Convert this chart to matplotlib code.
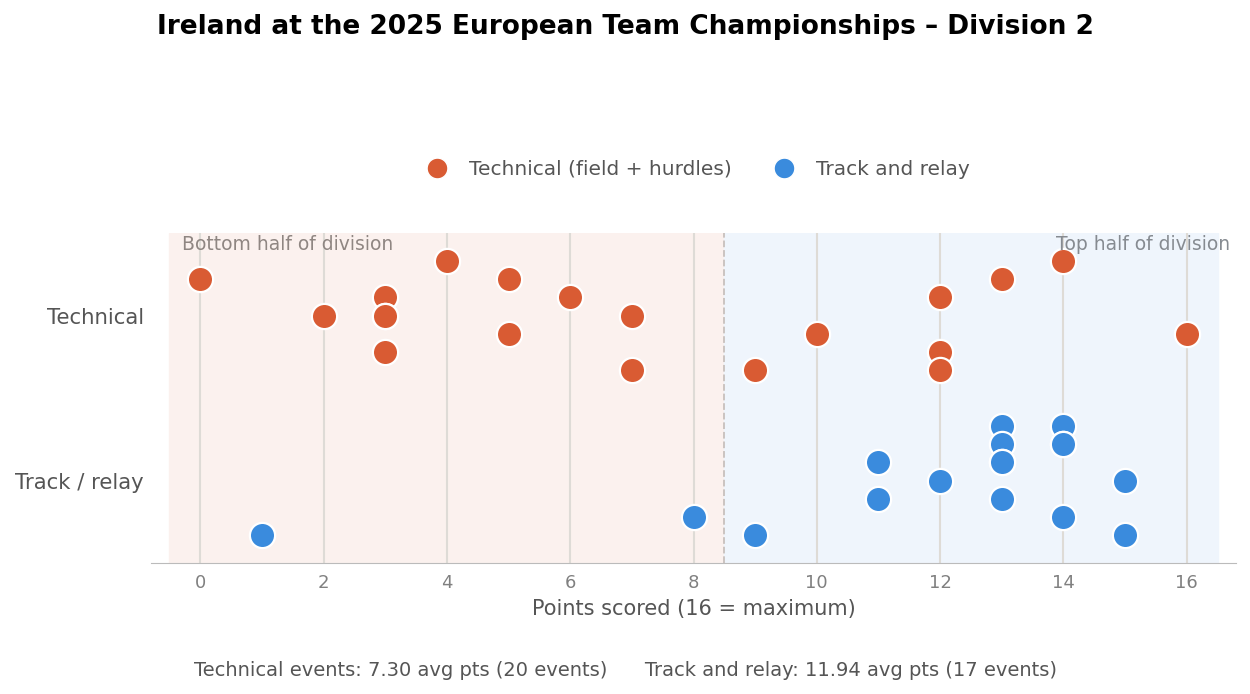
import numpy as np
import matplotlib.pyplot as plt
from matplotlib.lines import Line2D

# points per event (16 = maximum)
tech_points = [0, 2, 3, 3, 3, 3, 4, 5, 5, 6, 7, 7, 9, 10, 12, 12, 12, 13, 14, 16]
tech_offset = [0.22, 0, 0.11, 0, -0.22, 0, 0.33, 0.22, -0.11, 0.11, 0, -0.33, -0.33, -0.11,
               0.11, -0.22, -0.33, 0.22, 0.33, -0.11]

track_points = [1, 8, 9, 11, 11, 12, 13, 13, 13, 13, 13, 14, 14, 14, 14, 15, 15]
track_offset = [-0.33, -0.22, -0.33, 0.11, -0.11, 0, 0.33, 0.22, 0.11, -0.11, 0.11,
                0.33, 0.22, 0.22, -0.22, 0, -0.33]

categories = ["Track / relay", "Technical"]

orange = "#d95b33"
blue = "#3a8bdd"

fig = plt.figure(figsize=(12.5, 6.94), dpi=100)
ax = fig.add_axes([0.1208, 0.1888, 0.868, 0.4752])

# halves of the division
ax.axvspan(-0.5, 8.5, color="#fbf1ee", zorder=0)
ax.axvspan(8.5, 16.5, color="#eff5fc", zorder=0)
ax.axvline(8.5, color="#c8c0bc", linestyle="--", linewidth=1.3, zorder=1)

for xv in range(0, 17, 2):
    ax.axvline(xv, color="#dedbd6", linewidth=1.5, zorder=1)

ax.scatter(tech_points, 1 + np.array(tech_offset), s=330, color=orange,
           edgecolor="white", linewidth=1.6, zorder=3)
ax.scatter(track_points, 0 + np.array(track_offset), s=330, color=blue,
           edgecolor="white", linewidth=1.6, zorder=3)

ax.set_xlim(-0.8, 16.8)
ax.set_ylim(-0.5, 1.5)
ax.set_xticks(range(0, 17, 2))
ax.set_yticks([0, 1])
ax.set_yticklabels(categories, fontsize=15.3, color="#555555")
ax.tick_params(axis="x", labelsize=13, labelcolor="#808080", length=0, pad=8)
ax.tick_params(axis="y", length=0, pad=5)
for sp in ["top", "right", "left"]:
    ax.spines[sp].set_visible(False)
ax.spines["bottom"].set_color("#bbbbbb")
ax.set_xlabel("Points scored (16 = maximum)", fontsize=15, color="#555555", labelpad=5)

ax.text(-0.3, 1.49, "Bottom half of division", fontsize=13.5, color="#8f8682", va="top")
ax.text(16.7, 1.49, "Top half of division", fontsize=13.5, color="#868b91", va="top", ha="right")

handles = [
    Line2D([], [], marker="o", linestyle="", markersize=15, color=orange,
           markeredgecolor="white", label="Technical (field + hurdles)"),
    Line2D([], [], marker="o", linestyle="", markersize=15, color=blue,
           markeredgecolor="white", label="Track and relay"),
]
ax.legend(handles=handles, loc="center", bbox_to_anchor=(0.5, 1.194), ncol=2,
          frameon=False, fontsize=14.5, labelcolor="#555555", columnspacing=1.6,
          handletextpad=0.6)

fig.suptitle("Ireland at the 2025 European Team Championships \u2013 Division 2",
             fontsize=19, fontweight="bold", y=0.98)

tech_avg = np.mean(tech_points)
track_avg = np.mean(track_points)
fig.text(0.5, 0.026,
         f"Technical events: {tech_avg:.2f} avg pts ({len(tech_points)} events)      "
         f"Track and relay: {track_avg:.2f} avg pts ({len(track_points)} events)",
         ha="center", fontsize=14, color="#555555")

fig.savefig("out.png", dpi=100)
